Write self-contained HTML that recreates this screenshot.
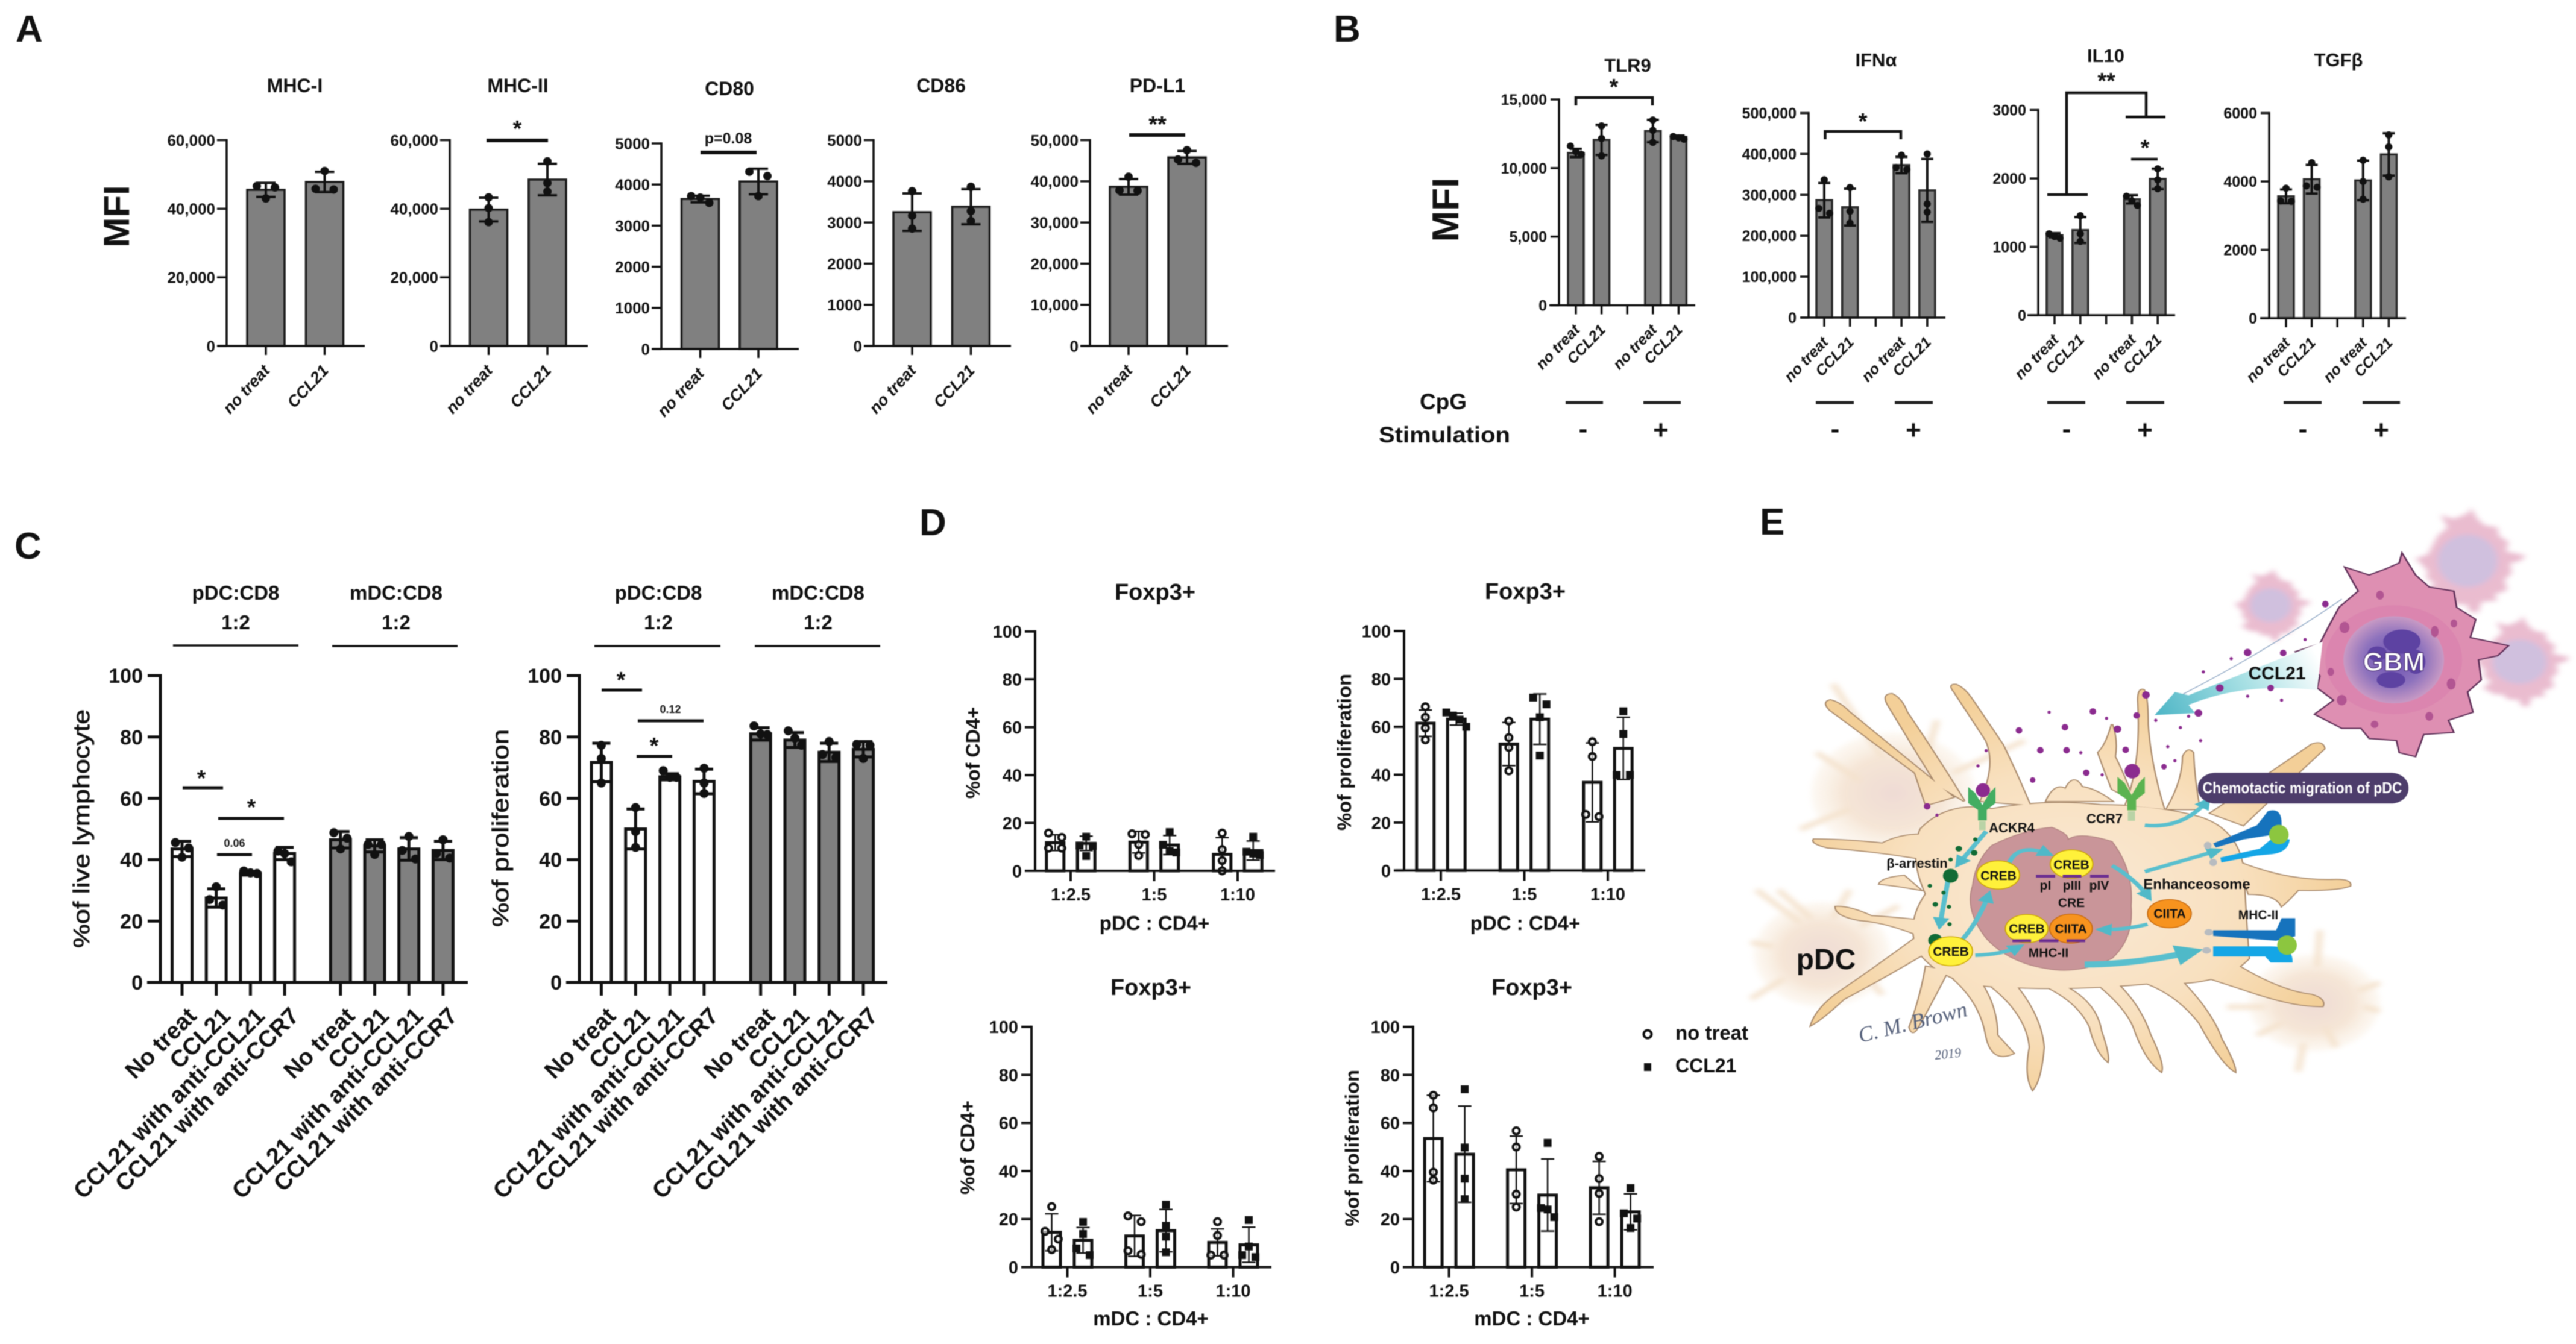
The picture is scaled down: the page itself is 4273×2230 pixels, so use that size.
<!DOCTYPE html>
<html lang="en">
<head>
<meta charset="utf-8">
<title>CCL21 pDC figure</title>
<style>
html,body{margin:0;padding:0;background:#fff}
svg{display:block;font-family:"Liberation Sans",sans-serif;filter:blur(.9px)}
text{fill:#111}
.t{font-weight:bold}
</style>
</head>
<body>
<svg id="figure" xmlns="http://www.w3.org/2000/svg" width="4273" height="2230" viewBox="0 0 4273 2230">
<defs>
<radialGradient id="cellGrad" gradientUnits="userSpaceOnUse" cx="640" cy="1030" r="520" gradientTransform="translate(0 0)">
<stop offset="0" stop-color="#fae9d6"/><stop offset=".6" stop-color="#f8e0bf"/><stop offset="1" stop-color="#f3cf98"/>
</radialGradient>
<radialGradient id="ghostGrad"><stop offset="0" stop-color="#e9cfc6"/><stop offset=".6" stop-color="#f2ddc8"/><stop offset="1" stop-color="#f8ead8" stop-opacity=".4"/></radialGradient>
<radialGradient id="gbmNucleusGrad"><stop offset="0" stop-color="#6a4fb0"/><stop offset=".6" stop-color="#8d72bd"/><stop offset="1" stop-color="#c89ac4"/></radialGradient>
<linearGradient id="ccl21Grad" gradientUnits="userSpaceOnUse" x1="800" y1="570" x2="1100" y2="440"><stop offset="0" stop-color="#4fb6c6"/><stop offset=".55" stop-color="#a8e0e4"/><stop offset="1" stop-color="#ffffff"/></linearGradient>
<filter id="blur6" x="-30%" y="-30%" width="160%" height="160%"><feGaussianBlur stdDeviation="6"/></filter>
<marker id="tealHead" viewBox="0 0 10 10" refX="7" refY="5" markerWidth="3.4" markerHeight="3.4" orient="auto-start-reverse"><path d="M0 0L10 5L0 10Z" fill="#4fb9c8"/></marker>
<polygon id="gbm-shape" points="1250,175 1275,230 1300,260 1345,270 1350,310 1385,340 1375,385 1445,405 1425,430 1390,440 1395,490 1370,520 1380,570 1335,590 1345,620 1290,625 1275,680 1245,670 1240,640 1190,635 1175,610 1140,610 1090,575 1125,540 1095,510 1100,480 1075,440 1055,420 1100,400 1115,360 1135,310 1170,270 1145,210 1190,230 1220,215 1245,200"/>
<g id="cell-shapes">
<path d="M360,720 L205,565 Q190,545 205,540 Q222,545 240,570 L430,780 L380,800 Z"/>
<path d="M400,750 Q350,640 310,550 Q300,525 318,525 Q335,535 345,570 Q400,680 450,790 Z"/>
<path d="M480,790 Q510,700 490,640 L432,520 Q420,500 435,502 Q450,510 465,540 L520,650 Q545,720 570,800 Z"/>
<path d="M600,790 Q615,745 635,760 Q650,720 665,755 Q690,760 720,790 Z"/>
<path d="M745,800 Q775,700 768,540 Q768,510 778,515 Q785,530 785,600 Q790,700 815,810 Z"/>
<path d="M720,760 Q700,690 695,670 Q710,650 720,600 Q730,640 725,680 Q740,720 760,790 Z"/>
<path d="M820,810 Q850,740 850,680 Q858,655 868,670 Q870,740 880,810 Z"/>
<path d="M900,820 Q1010,720 1085,650 Q1105,640 1108,660 Q1060,720 960,850 Z"/>
<path d="M950,940 Q1040,990 1130,985 Q1158,985 1155,1000 Q1130,1012 1060,1010 Q1040,1040 1030,1050 Q1020,1020 970,1020 Z"/>
<path d="M930,1180 Q1020,1260 1085,1270 Q1110,1280 1105,1298 Q1060,1300 990,1270 L900,1230 Z"/>
<path d="M820,1200 Q900,1300 920,1380 Q945,1440 945,1460 Q920,1440 880,1340 Q840,1270 780,1240 Z"/>
<path d="M720,1230 Q770,1290 790,1370 Q815,1440 810,1460 Q780,1430 760,1350 Q745,1300 690,1240 Z"/>
<path d="M620,1240 Q690,1280 700,1360 Q715,1420 712,1435 Q690,1410 680,1350 Q660,1290 600,1250 Z"/>
<path d="M540,1240 Q590,1320 595,1400 Q590,1480 575,1505 Q560,1470 570,1400 Q565,1320 500,1250 Z"/>
<path d="M470,1220 Q510,1290 510,1370 L540,1415 Q500,1440 490,1370 Q480,1290 430,1230 Z"/>
<path d="M420,1210 Q390,1290 365,1350 Q355,1375 350,1350 Q370,1280 380,1200 Z"/>
<path d="M400,1150 Q300,1230 230,1280 Q190,1330 170,1345 Q180,1300 230,1255 Q300,1190 370,1120 Z"/>
<path d="M380,1130 Q310,1090 260,1085 Q215,1075 215,1052 Q240,1050 280,1075 Q340,1080 400,1090 Z"/>
<path d="M400,940 Q300,915 200,905 Q170,895 175,885 Q230,885 300,895 Q350,860 420,880 Z"/>
<path d="M370,1010 Q330,1000 295,995 Q300,980 340,975 Z"/>
<path d="M370,860 Q420,790 500,810 Q600,785 700,800 Q800,800 880,830 Q950,860 960,960 Q965,1100 970,1180 Q920,1250 800,1240 Q650,1260 520,1250 Q420,1250 370,1170 Q340,1100 380,1020 Q350,930 370,860 Z"/>
</g>
<path id="receptor" d="M457,755 L470,770 L483,800 L496,770 L507,755 L507,795 L491,812 L491,838 L475,838 L475,812 L457,795 Z"/>
</defs>

<g id="charts"></g>

<!-- Panel letters -->
<g class="t" font-size="62">
<text x="26" y="69">A</text>
<text x="2212" y="69">B</text>
<text x="24" y="927">C</text>
<text x="1525" y="888">D</text>
<text x="2919" y="887">E</text>
</g>

<!-- Panel A titles & annotations -->
<g class="t" font-size="32" text-anchor="middle">
<text x="489" y="153">MHC-I</text>
<text x="859" y="153">MHC-II</text>
<text x="1210" y="158">CD80</text>
<text x="1561" y="153">CD86</text>
<text x="1920" y="153">PD-L1</text>
</g>
<text class="t" font-size="60" text-anchor="middle" transform="translate(214 359) rotate(-90)">MFI</text>
<g>
<rect x="807" y="230" width="102" height="6" fill="#111"/>
<text class="t" x="858" y="226" font-size="38" text-anchor="middle">*</text>
<rect x="1162" y="250" width="93" height="6" fill="#111"/>
<text class="t" x="1208" y="238" font-size="25" text-anchor="middle">p=0.08</text>
<rect x="1873" y="221" width="93" height="6" fill="#111"/>
<text class="t" x="1920" y="219" font-size="38" text-anchor="middle">**</text>
</g>

<!-- Panel B titles & annotations -->
<g class="t" font-size="31" text-anchor="middle">
<text x="2700" y="119">TLR9</text>
<text x="3112" y="110">IFNα</text>
<text x="3493" y="103">IL10</text>
<text x="3879" y="110">TGFβ</text>
</g>
<text class="t" font-size="62" text-anchor="middle" transform="translate(2419 348) rotate(-90)">MFI</text>
<g fill="none" stroke="#111" stroke-width="4.5">
<path d="M2614 175V162H2741V175"/>
<path d="M3027.5 231V218H3153V231"/>
<path d="M3428 323V154H3560V194"/>
<path d="M3396 323H3463"/>
<path d="M3526 194H3592"/>
<path d="M3535 264H3579"/>
</g>
<g class="t" font-size="38" text-anchor="middle">
<text x="2677" y="157">*</text>
<text x="3090" y="214">*</text>
<text x="3494" y="147">**</text>
<text x="3558" y="258">*</text>
</g>
<g class="t" font-size="37" text-anchor="middle">
<text x="2394" y="679">CpG</text>
<text x="2396" y="734" textLength="218" lengthAdjust="spacingAndGlyphs">Stimulation</text>
</g>
<g stroke="#222" stroke-width="5">
<path d="M2597 668H2659M2726 668H2788"/>
<path d="M3012 668H3075M3143 668H3206"/>
<path d="M3396 668H3459M3527 668H3590"/>
<path d="M3788 668H3851M3919 668H3981"/>
</g>
<g class="t" font-size="44" text-anchor="middle">
<text x="2626" y="726">-</text>
<text x="2755" y="728">+</text>
<text x="3044" y="726">-</text>
<text x="3174" y="728">+</text>
<text x="3428" y="726">-</text>
<text x="3558" y="728">+</text>
<text x="3820" y="726">-</text>
<text x="3950" y="728">+</text>
</g>

<!-- Panel C annotations -->
<g class="t" font-size="33" text-anchor="middle">
<text x="391" y="995">pDC:CD8</text>
<text x="391" y="1044">1:2</text>
<text x="657" y="995">mDC:CD8</text>
<text x="657" y="1044">1:2</text>
<text x="1092" y="995">pDC:CD8</text>
<text x="1092" y="1044">1:2</text>
<text x="1357" y="995">mDC:CD8</text>
<text x="1357" y="1044">1:2</text>
</g>
<g stroke="#111" stroke-width="3.5">
<path d="M287 1071H495M551 1072H759"/>
<path d="M986 1072H1195M1252 1072H1460"/>
</g>
<text class="t" font-size="38" text-anchor="middle" textLength="396" lengthAdjust="spacingAndGlyphs" style="font-weight:normal;stroke:#111;stroke-width:.7" transform="translate(148 1375) rotate(-90)">%of live lymphocyte</text>
<text class="t" font-size="38" text-anchor="middle" textLength="328" lengthAdjust="spacingAndGlyphs" style="font-weight:normal;stroke:#111;stroke-width:.7" transform="translate(843 1374) rotate(-90)">%of proliferation</text>
<g stroke="#111" stroke-width="5">
<path d="M303 1307H370"/>
<path d="M362 1358H471"/>
<path d="M360 1418H418"/>
<path d="M998 1145H1065"/>
<path d="M1058 1196H1167"/>
<path d="M1056 1255H1115"/>
</g>
<g class="t" font-size="38" text-anchor="middle">
<text x="334" y="1304">*</text>
<text x="417" y="1352">*</text>
<text x="1030" y="1141">*</text>
<text x="1085" y="1250">*</text>
</g>
<g class="t" font-size="18" text-anchor="middle">
<text x="389" y="1405">0.06</text>
<text x="1112" y="1183">0.12</text>
</g>

<!-- Panel D annotations -->
<g class="t" font-size="38" text-anchor="middle">
<text x="1916" y="995">Foxp3+</text>
<text x="2530" y="994">Foxp3+</text>
<text x="1909" y="1651">Foxp3+</text>
<text x="2541" y="1651">Foxp3+</text>
<text x="1915" y="1543" font-size="33">pDC : CD4+</text>
<text x="2530" y="1543" font-size="33">pDC : CD4+</text>
<text x="1909" y="2199" font-size="33">mDC : CD4+</text>
<text x="2541" y="2199" font-size="33">mDC : CD4+</text>
</g>
<g class="t" font-size="32" text-anchor="middle">
<text transform="translate(1625 1249) rotate(-90)" textLength="152" lengthAdjust="spacingAndGlyphs">%of CD4+</text>
<text transform="translate(2241 1248) rotate(-90)" textLength="260" lengthAdjust="spacingAndGlyphs">%of proliferation</text>
<text transform="translate(1616 1904) rotate(-90)" textLength="156" lengthAdjust="spacingAndGlyphs">%of CD4+</text>
<text transform="translate(2254 1905) rotate(-90)" textLength="260" lengthAdjust="spacingAndGlyphs">%of proliferation</text>
</g>
<g>
<circle cx="2733" cy="1716" r="6.5" fill="#fff" stroke="#111" stroke-width="4"/>
<text class="t" x="2779" y="1725" font-size="33">no treat</text>
<rect x="2727" y="1764" width="12" height="13" fill="#111"/>
<text class="t" x="2779" y="1779" font-size="32">CCL21</text>
</g>

<!-- Panel E illustration -->
<g transform="translate(2850 800) scale(.9074 .6698)">
<g filter="url(#blur6)" opacity=".75">
<ellipse cx="320" cy="770" rx="150" ry="150" fill="url(#ghostGrad)"/>
<ellipse cx="190" cy="1170" rx="125" ry="130" fill="url(#ghostGrad)"/>
<ellipse cx="1090" cy="1290" rx="120" ry="120" fill="url(#ghostGrad)"/>
<g stroke="#f1d9bd" stroke-width="12" fill="none">
<path d="M210,500L300,680M400,590L380,680M560,640L430,720M180,670L260,740M150,860L240,810"/>
<path d="M70,1010L150,1090M110,1010L170,1080M240,1010L210,1080M60,1140L100,1150M60,1280L120,1230M300,1270L270,1220M330,1050L260,1100"/>
<path d="M1100,1110L1095,1200M1210,1240L1170,1260M1210,1310L1180,1300M930,1300L1000,1300M1130,1400L1110,1350M1060,1460L1070,1390M985,1370L1030,1340"/>
</g>
</g>
<g filter="url(#blur6)" opacity=".55">
<use href="#gbm-shape" fill="#d985a8" transform="translate(1010 305) scale(.36) translate(-1240 -430)"/>
<ellipse cx="1010" cy="305" rx="38" ry="42" fill="#a98cc4"/>
<use href="#gbm-shape" fill="#d985a8" transform="translate(1370 195) scale(.52) translate(-1240 -430)"/>
<ellipse cx="1370" cy="195" rx="55" ry="65" fill="#a98cc4"/>
<use href="#gbm-shape" fill="#d985a8" transform="translate(1465 445) scale(.45) translate(-1240 -430)"/>
<ellipse cx="1465" cy="445" rx="50" ry="55" fill="#a98cc4"/>
</g>
<use href="#cell-shapes" fill="#a98a6c" stroke="#a98a6c" stroke-width="5"/>
<use href="#cell-shapes" fill="url(#cellGrad)"/>
<use href="#gbm-shape" fill="#de8fb2" stroke="#5f2f58" stroke-width="3"/>
<g>
<ellipse cx="1235" cy="440" rx="125" ry="135" fill="#d97fae" opacity=".6"/>
<ellipse cx="1235" cy="440" rx="92" ry="108" fill="url(#gbmNucleusGrad)"/>
<ellipse cx="1250" cy="395" rx="34" ry="30" fill="#5d42a2"/>
<ellipse cx="1205" cy="425" rx="18" ry="18" fill="#5d42a2"/>
<ellipse cx="1275" cy="445" rx="18" ry="30" fill="#5d42a2"/>
<ellipse cx="1230" cy="490" rx="26" ry="20" fill="#5d42a2"/>
<ellipse cx="1310" cy="370" rx="7" ry="14" fill="#b25592"/>
<ellipse cx="1145" cy="360" rx="9" ry="14" fill="#b25592"/>
<ellipse cx="1140" cy="540" rx="9" ry="13" fill="#b25592"/>
<ellipse cx="1340" cy="500" rx="8" ry="14" fill="#b25592"/>
<ellipse cx="1300" cy="580" rx="7" ry="11" fill="#b25592"/>
<ellipse cx="1345" cy="350" rx="6" ry="10" fill="#b25592"/>
<ellipse cx="1120" cy="470" rx="6" ry="10" fill="#b25592"/>
<ellipse cx="1200" cy="600" rx="7" ry="9" fill="#b25592"/>
<ellipse cx="1210" cy="280" rx="7" ry="11" fill="#b25592"/>
</g>
<path d="M1105,395 L860,528 L835,520 L798,577 L872,572 L860,552 Q960,495 1095,515 Z" fill="url(#ccl21Grad)"/>
<path d="M1140,290 Q1000,420 850,525" fill="none" stroke="#8fa7c4" stroke-width="2"/>
<g fill="#8b2b8f">
<ellipse cx="1110" cy="302" rx="6" ry="8"/><ellipse cx="968" cy="422" rx="7" ry="9"/><ellipse cx="1033" cy="423" rx="6" ry="8"/><ellipse cx="917" cy="510" rx="7" ry="9"/><ellipse cx="1010" cy="510" rx="6" ry="8"/><ellipse cx="878" cy="572" rx="7" ry="9"/><ellipse cx="782" cy="527" rx="7" ry="9"/><ellipse cx="765" cy="578" rx="6" ry="8"/><ellipse cx="730" cy="612" rx="7" ry="9"/><ellipse cx="685" cy="568" rx="6" ry="8"/><ellipse cx="634" cy="607" rx="6" ry="8"/><ellipse cx="550" cy="615" rx="6" ry="8"/><ellipse cx="589" cy="664" rx="6" ry="8"/><ellipse cx="637" cy="664" rx="6" ry="8"/><ellipse cx="745" cy="663" rx="6" ry="8"/><ellipse cx="673" cy="720" rx="6" ry="8"/><ellipse cx="815" cy="705" rx="5" ry="7"/><ellipse cx="575" cy="738" rx="5" ry="7"/><ellipse cx="382" cy="803" rx="6" ry="8"/>
<ellipse cx="938" cy="437" rx="3" ry="4"/><ellipse cx="887" cy="470" rx="3" ry="4"/><ellipse cx="1073" cy="390" rx="3" ry="4"/><ellipse cx="968" cy="530" rx="3" ry="4"/><ellipse cx="1030" cy="540" rx="3" ry="4"/><ellipse cx="860" cy="580" rx="3" ry="4"/><ellipse cx="800" cy="590" rx="3" ry="4"/><ellipse cx="845" cy="608" rx="3" ry="4"/><ellipse cx="882" cy="640" rx="3" ry="4"/><ellipse cx="822" cy="655" rx="3" ry="4"/><ellipse cx="835" cy="690" rx="3" ry="4"/><ellipse cx="605" cy="570" rx="3" ry="4"/><ellipse cx="710" cy="585" rx="3" ry="4"/><ellipse cx="663" cy="670" rx="3" ry="4"/><ellipse cx="702" cy="725" rx="3" ry="4"/><ellipse cx="475" cy="703" rx="3" ry="4"/><ellipse cx="400" cy="825" rx="3" ry="4"/><ellipse cx="490" cy="665" rx="3" ry="4"/>
<ellipse cx="484" cy="763" rx="13" ry="17"/><ellipse cx="757" cy="716" rx="14" ry="18"/>
</g>
<use href="#receptor" fill="#43ad62"/>
<use href="#receptor" fill="#5bb350" transform="translate(273 -25)"/>
<rect x="477" y="840" width="12" height="22" fill="#b9d3a6"/>
<rect x="749" y="815" width="13" height="24" fill="#b9d3a6"/>
<path d="M500,900 Q560,860 610,855 Q640,870 640,885 Q660,865 720,890 Q760,960 755,1050 Q760,1130 720,1180 Q660,1220 600,1205 Q530,1190 490,1130 Q450,1060 465,1000 Q470,940 500,900 Z" fill="#c99599" stroke="#b18380" stroke-width="2"/>
<g fill="none" stroke="#59bfce" stroke-width="9" marker-end="url(#tealHead)">
<path d="M490,865 L438,948"/><path d="M420,988 L405,1100"/><path d="M445,1135 Q475,1090 495,1020"/><path d="M470,1172 Q520,1170 552,1150"/><path d="M785,1095 Q740,1110 698,1108"/>
<path d="M670,1195 Q760,1195 872,1162" stroke-width="15"/><path d="M530,950 Q545,890 606,922"/><path d="M720,950 Q760,980 788,1030"/><path d="M780,965 L915,912"/><path d="M780,850 Q850,860 895,788"/>
</g>
<g fill="#116b35">
<ellipse cx="425" cy="975" rx="14" ry="17"/><ellipse cx="397" cy="1135" rx="13" ry="16"/>
<ellipse cx="470" cy="885" rx="4" ry="5"/><ellipse cx="440" cy="908" rx="6" ry="7"/><ellipse cx="468" cy="918" rx="6" ry="7"/><ellipse cx="425" cy="935" rx="4" ry="5"/><ellipse cx="387" cy="1000" rx="4" ry="5"/><ellipse cx="412" cy="1017" rx="4" ry="5"/><ellipse cx="397" cy="1046" rx="5" ry="6"/><ellipse cx="422" cy="1052" rx="4" ry="5"/><ellipse cx="423" cy="1095" rx="4" ry="5"/>
</g>
<g fill="#fff13a" stroke="#c9a400" stroke-width="2">
<ellipse cx="512" cy="973" rx="39" ry="35"/><ellipse cx="646" cy="946" rx="39" ry="35"/><ellipse cx="425" cy="1162" rx="40" ry="36"/><ellipse cx="564" cy="1106" rx="39" ry="35"/>
</g>
<g fill="#f7931e" stroke="#c66a10" stroke-width="2">
<ellipse cx="825" cy="1069" rx="40" ry="35"/><ellipse cx="645" cy="1106" rx="39" ry="36"/>
</g>
<path d="M581,976H616M630,976H664M680,976H714M538,1136H572M587,1136H622M637,1136H671" stroke="#6a2c91" stroke-width="7"/>
<g>
<ellipse cx="895" cy="900" rx="7" ry="9" fill="#b8bcc0"/><ellipse cx="905" cy="942" rx="7" ry="9" fill="#b8bcc0"/><ellipse cx="897" cy="1115" rx="8" ry="8" fill="#b8bcc0"/><ellipse cx="893" cy="1160" rx="8" ry="8" fill="#b8bcc0"/>
<path d="M905,895 L985,850 L1005,815 Q1030,805 1030,845 L1030,870 L960,885 L910,905 Z" fill="#1673bd"/>
<path d="M918,930 L990,908 L1015,880 L1045,885 Q1042,918 1010,922 L985,925 L920,942 Z" fill="#14a6e6"/>
<ellipse cx="1025" cy="873" rx="18" ry="24" fill="#8cc63f"/>
<path d="M905,1110 H1020 L1030,1080 H1055 V1125 L1020,1136 L905,1124 Z" fill="#1673bd"/>
<path d="M905,1150 H1010 Q1052,1150 1050,1190 L1010,1190 L1000,1175 H905 Z" fill="#14a6e6"/>
<ellipse cx="1040" cy="1147" rx="18" ry="24" fill="#8cc63f"/>
</g>
<rect x="877" y="720" width="385" height="76" rx="32" ry="36" fill="#4d3d6b"/>
</g>
<g class="t" text-anchor="middle">
<text x="3971" y="1113" font-size="44" style="fill:#fff;stroke:#4a2f73;stroke-width:1.2">GBM</text>
<text x="3777" y="1127" font-size="30">CCL21</text>
<text x="3819" y="1316" font-size="26" textLength="331" lengthAdjust="spacingAndGlyphs" style="fill:#fff">Chemotactic migration of  pDC</text>
<text x="3337" y="1381" font-size="22">ACKR4</text>
<text x="3491" y="1366" font-size="22">CCR7</text>
<text x="3180" y="1440" font-size="22">β-arrestin</text>
<text x="3315" y="1460" font-size="21">CREB</text>
<text x="3436" y="1442" font-size="21">CREB</text>
<text x="3236" y="1586" font-size="21">CREB</text>
<text x="3362" y="1548" font-size="21">CREB</text>
<text x="3599" y="1523" font-size="21">CIITA</text>
<text x="3435" y="1548" font-size="21">CIITA</text>
<text x="3393" y="1476" font-size="21">pI</text>
<text x="3437" y="1476" font-size="21">pIII</text>
<text x="3482" y="1476" font-size="21">pIV</text>
<text x="3436" y="1505" font-size="21">CRE</text>
<text x="3644" y="1475" font-size="24">Enhanceosome</text>
<text x="3398" y="1588" font-size="21">MHC-II</text>
<text x="3746" y="1525" font-size="21">MHC-II</text>
<text x="3029" y="1608" font-size="48">pDC</text>
</g>
<g font-family="Liberation Serif" font-style="italic">
<text x="3086" y="1730" font-size="36" transform="rotate(-14 3086 1730)" style="fill:#55607a">C. M. Brown</text>
<text x="3210" y="1758" font-size="22" transform="rotate(-6 3210 1758)" style="fill:#55607a">2019</text>
</g>

<script>
// ---------- shared tick arrays ----------
const ticks60k = [0, 20000, 40000, 60000];
const labels60k = ['0', '20,000', '40,000', '60,000'];
const ticks5k = [0, 1000, 2000, 3000, 4000, 5000];
const labels5k = ['0', '1000', '2000', '3000', '4000', '5000'];
const ticks50k = [0, 10000, 20000, 30000, 40000, 50000];
const labels50k = ['0', '10,000', '20,000', '30,000', '40,000', '50,000'];
const ticks15k = [0, 5000, 10000, 15000];
const labels15k = ['0', '5,000', '10,000', '15,000'];
const ticks500k = [0, 100000, 200000, 300000, 400000, 500000];
const labels500k = ['0', '100,000', '200,000', '300,000', '400,000', '500,000'];
const ticks3k = [0, 1000, 2000, 3000];
const labels3k = ['0', '1000', '2000', '3000'];
const ticks6k = [0, 2000, 4000, 6000];
const labels6k = ['0', '2000', '4000', '6000'];
const ticks100 = [0, 20, 40, 60, 80, 100];
const labels100 = ['0', '20', '40', '60', '80', '100'];

// ---------- categories ----------
const catsA = ['no treat', 'CCL21'];
const catsB = ['no treat', 'CCL21', '', 'no treat', 'CCL21'];
const catsC = ['No treat', 'CCL21', 'CCL21 with anti-CCL21', 'CCL21 with anti-CCR7', 'No treat', 'CCL21', 'CCL21 with anti-CCL21', 'CCL21 with anti-CCR7'];
const catsD = ['1:2.5', '1:5', '1:10'];

// ---------- panel A ----------
const mhc1Means = [45500, 47800];
const mhc1Errors = [2050, 2950];
const mhc1Points = [[46600, 46200, 43000], [51000, 45600, 45800]];
const mhc2Means = [39750, 48500];
const mhc2Errors = [3450, 4600];
const mhc2Points = [[43300, 40200, 36100], [53800, 47500, 45000]];
const cd80Means = [3647, 4074];
const cd80Errors = [80, 312];
const cd80Points = [[3555, 3717, 3682], [4313, 4208, 3717]];
const cd86Means = [3250, 3382];
const cd86Errors = [455, 427];
const cd86Points = [[3760, 3165, 2850], [3865, 3277, 3032]];
const pdl1Means = [38650, 45800];
const pdl1Errors = [1900, 1540];
const pdl1Points = [[41100, 37700, 37800], [47550, 44500, 45300]];

// ---------- panel B ----------
const tlr9Means = [11100, 12050, null, 12700, 12270];
const tlr9Errors = [300, 1100, null, 820, 100];
const tlr9Points = [[11600, 11200, 11000], [13075, 12150, 10890], [], [13500, 12750, 11870], [12300, 12200, 12100]];
const ifnMeans = [287000, 270000, null, 373000, 311000];
const ifnErrors = [42000, 45000, null, 20000, 77000];
const ifnPoints = [[337000, 267000, 255000], [318000, 260000, 231000], [], [397000, 367000, 362000], [400000, 278000, 258000]];
const il10Means = [1170, 1245, null, 1695, 1993];
const il10Errors = [30, 190, null, 60, 150];
const il10Points = [[1190, 1150, 1125], [1455, 1190, 1080], [], [1740, 1670, 1607], [2140, 1980, 1850]];
const tgfMeans = [3565, 4065, null, 4030, 4790];
const tgfErrors = [200, 420, null, 580, 620];
const tgfPoints = [[3800, 3430, 3420], [4550, 3870, 3830], [], [4620, 4000, 3480], [5360, 5010, 4135]];

// ---------- panel C ----------
const liveMeans = [43.5, 27.5, 35.5, 42, 46.5, 44.5, 43.5, 43];
const liveErrors = [2.5, 3, 0.5, 2, 2.7, 2, 3.7, 3];
const livePoints = [[45.6, 43.8, 40.8], [31.2, 27, 25.2], [35.7, 36.3, 35.5], [42.8, 42, 39.3], [48.8, 47, 43.5], [45, 45, 41.7], [47.6, 43, 40.2], [46.5, 42, 40.5]];
const prolifMeans = [71.7, 50, 67, 65.5, 81, 79, 75, 76];
const prolifErrors = [6.3, 6.5, 1, 4, 2, 2.4, 3, 2.5];
const prolifPoints = [[77.3, 73, 65], [57, 49.2, 44], [69, 66.8, 66.8], [69.8, 65, 61.6], [83.6, 81, 80.8], [82, 79.6, 77.3], [78.5, 74.3, 73.3], [77.6, 77.3, 73]];

// ---------- panel D ----------
const d1NoTreatMeans = [11.8, 12, 6.9];
const d1NoTreatErrors = [3.3, 4.5, 7];
const d1NoTreatPoints = [[15.8, 14, 9.5, 9.5], [15.2, 15.5, 11, 6.4], [15.8, 8.9, 4.3, 0]];
const d1CclMeans = [11.5, 10.8, 8.5];
const d1CclErrors = [3, 4, 4];
const d1CclPoints = [[14.3, 10.6, 10.4, 6.2], [16.2, 10.9, 8.3, 7.7], [14.3, 8, 7.2, 6.6]];
const d2NoTreatMeans = [61.5, 52.8, 36.8];
const d2NoTreatErrors = [5.5, 9, 16.5];
const d2NoTreatPoints = [[68.4, 64, 59.5, 54.6], [62.4, 55.5, 51.4, 41.6], [53.8, 47.6, 23.4, 22.5]];
const d2CclMeans = [63.2, 63.2, 51];
const d2CclErrors = [2.5, 10.5, 13];
const d2CclPoints = [[66, 64.7, 63, 60], [72.2, 69.4, 64, 48], [66.5, 57, 39.9, 39.9]];
const d3NoTreatMeans = [14.5, 13, 10.3];
const d3NoTreatErrors = [7.7, 8.5, 5.6];
const d3NoTreatPoints = [[25.2, 14.9, 11.7, 7.3], [18.9, 21.3, 5.3, 6.8], [18.9, 13.2, 5, 5]];
const d3CclMeans = [11.2, 15.2, 9.3];
const d3CclErrors = [5.3, 8.8, 7.3];
const d3CclPoints = [[18.8, 13.8, 7.8, 5], [26, 17.2, 12.7, 6.2], [19.6, 8.6, 5, 4.2]];
const d4NoTreatMeans = [53.5, 40.5, 33];
const d4NoTreatErrors = [18, 14, 11];
const d4NoTreatPoints = [[71.5, 66.3, 39.5, 36.2], [56.7, 50, 30.4, 25], [46.1, 36.8, 30.7, 18.9]];
const d4CclMeans = [47, 30, 23];
const d4CclErrors = [20, 15, 7.5];
const d4CclPoints = [[74, 49.8, 36.8, 28.3], [51.7, 24.6, 24, 20.8], [32.9, 22.4, 20.2, 16.3]];

// ---------- drawing helpers ----------
const NS = 'http://www.w3.org/2000/svg';
const root = document.getElementById('charts');
function mk(tag, attrs, parent) {
  const el = document.createElementNS(NS, tag);
  for (const k in attrs) el.setAttribute(k, attrs[k]);
  parent.appendChild(el);
  return el;
}
function yAxisScale(top, bottom, max) {
  return function (v) { return bottom - (v / max) * (bottom - top); };
}
function xAxisScale(first, step, gapAt, gap) {
  return function (i) { return first + i * step + (gapAt !== undefined && i >= gapAt ? gap : 0); };
}
// Places points side by side when their values collide, the way a scatter-on-bar plot does.
function swarmOffsets(ys, r, spread) {
  const order = ys.map(function (y, i) { return i; }).sort(function (a, b) { return ys[a] - ys[b]; });
  const out = ys.map(function () { return 0; });
  let cluster = [];
  function flush() {
    const n = cluster.length;
    cluster.forEach(function (idx, j) {
      if (n === 1) out[idx] = 0;
      else if (n === 2) out[idx] = j === 0 ? -spread : spread;
      else out[idx] = (j - (n - 1) / 2) * spread;
    });
    cluster = [];
  }
  order.forEach(function (idx) {
    if (cluster.length && ys[idx] - ys[cluster[cluster.length - 1]] >= 2 * r) flush();
    cluster.push(idx);
  });
  flush();
  return out;
}
function drawAxes(g, a, s, ticks, labels, y) {
  const yLine = mk('line', {x1: a.axisX, x2: a.axisX, y1: a.top - s.axisW / 2, y2: a.bottom, stroke: s.ink, 'stroke-width': s.axisW}, g);
  
  
  const xLine = mk('line', {x1: a.xLeft, x2: a.xRight, y1: a.bottom, y2: a.bottom, stroke: s.ink, 'stroke-width': s.axisW}, g);
  
  
  ticks.forEach(function (t, i) {
    const tick = mk('line', {x1: a.axisX - s.tickLen, x2: a.axisX, y1: y(t), y2: y(t), stroke: s.ink, 'stroke-width': s.axisW}, g);
    
    
    const lab = mk('text', {x: a.axisX - s.labelGap, y: y(t) + s.fontSize * 0.36, 'text-anchor': 'end', 'font-size': s.fontSize, 'font-weight': 'bold'}, g);
    lab.textContent = labels[i];
    
    
  });
}
function drawXTick(g, a, s, x, label) {
  const tick = mk('line', {x1: x, x2: x, y1: a.bottom, y2: a.bottom + s.xTickLen, stroke: s.ink, 'stroke-width': s.axisW}, g);
  
  
  if (!label) return;
  const attrs = {'font-size': s.xFontSize, 'font-weight': 'bold'};
  if (s.xRotate) {
    const ax = x + s.xDx, ay = a.bottom + s.xDy;
    attrs.transform = 'translate(' + ax + ' ' + ay + ') rotate(' + s.xRotate + ')';
    attrs['text-anchor'] = 'end';
    if (s.xItalic) attrs['font-style'] = 'italic';
  } else {
    attrs.x = x;
    attrs.y = a.bottom + s.xDy;
    attrs['text-anchor'] = 'middle';
  }
  const lab = mk('text', attrs, g);
  lab.textContent = label;
  
  
}
function drawBar(g, s, cx, mean, err, points, y, fill, marker, baseY) {
  const top = y(mean);
  const bar = mk('rect', {x: cx - s.barW / 2, y: top, width: s.barW, height: baseY - top, fill: fill, stroke: s.barInk, 'stroke-width': s.barStroke}, g);
  
  
  const eTop = y(mean + err), eBot = y(mean - err);
  const whisker = mk('path', {d: 'M' + cx + ' ' + eTop + 'V' + eBot + 'M' + (cx - s.capW / 2) + ' ' + eTop + 'H' + (cx + s.capW / 2) + 'M' + (cx - s.capW / 2) + ' ' + eBot + 'H' + (cx + s.capW / 2), fill: 'none', stroke: s.ink, 'stroke-width': s.errW}, g);
  
  
  const ys = points.map(y);
  const offs = swarmOffsets(ys, s.r, s.spread);
  ys.forEach(function (py, i) {
    const px = cx + offs[i];
    let dot;
    if (marker === 'open') {
      dot = mk('circle', {cx: px, cy: py, r: s.r - 1, fill: '#fff', 'fill-opacity': 0.6, stroke: s.ink, 'stroke-width': 4}, g);
    } else if (marker === 'square') {
      dot = mk('rect', {x: px - s.r, y: py - s.r, width: 2 * s.r, height: 2 * s.r, fill: s.ink}, g);
    } else {
      dot = mk('circle', {cx: px, cy: py, r: s.r, fill: s.ink}, g);
    }
    
    
  });
}
function drawSimple(name, a, s, cats, ticks, labels, max, means, errors, points, fills) {
  const g = mk('g', {}, root);
  
  
  const y = yAxisScale(a.top, a.bottom, max);
  const x = xAxisScale(a.first, a.step, a.gapAt, a.gap);
  cats.forEach(function (c, i) {
    if (means[i] !== null) drawBar(g, s, x(i), means[i], errors[i], points[i], y, fills(i), 'solid', a.bottom);
  });
  drawAxes(g, a, s, ticks, labels, y);
  cats.forEach(function (c, i) { drawXTick(g, a, s, x(i), c); });
}
function drawGrouped(name, a, s, cats, ticks, labels, max, m1, e1, p1, m2, e2, p2) {
  const g = mk('g', {}, root);
  
  
  const y = yAxisScale(a.top, a.bottom, max);
  const x = xAxisScale(a.first, a.step);
  cats.forEach(function (c, i) {
    drawBar(g, s, x(i) - a.offset, m1[i], e1[i], p1[i], y, '#fff', 'open', a.bottom);
    drawBar(g, s, x(i) + a.offset, m2[i], e2[i], p2[i], y, '#fff', 'square', a.bottom);
  });
  drawAxes(g, a, s, ticks, labels, y);
  cats.forEach(function (c, i) { drawXTick(g, a, s, x(i), c); });
}

// ---------- styles ----------
const styleA = {ink: '#111', barInk: '#1a1a1a', axisW: 3.5, tickLen: 16, labelGap: 19, fontSize: 26, xTickLen: 15, xFontSize: 27, xRotate: -47, xItalic: true, xDx: 8, xDy: 42, barW: 62, barStroke: 3.5, capW: 32, errW: 4, r: 7, spread: 15};
const styleB = {ink: '#111', barInk: '#2a2a2a', axisW: 3.5, tickLen: 14, labelGap: 20, fontSize: 25, xTickLen: 15, xFontSize: 25, xRotate: -46, xItalic: true, xDx: 8, xDy: 42, barW: 26, barStroke: 3.5, capW: 20, errW: 4, r: 6, spread: 9};
const styleC = {ink: '#111', barInk: '#111', axisW: 5, tickLen: 21, labelGap: 29, fontSize: 34, xTickLen: 22, xFontSize: 39, xRotate: -45, xItalic: false, xDx: 26, xDy: 58, barW: 33, barStroke: 5, capW: 30, errW: 5, r: 7.5, spread: 11};
const styleD = {ink: '#111', barInk: '#111', axisW: 4, tickLen: 17, labelGap: 22, fontSize: 29, xTickLen: 17, xFontSize: 29, xRotate: 0, xItalic: false, xDx: 0, xDy: 49, barW: 29, barStroke: 5, capW: 22, errW: 2.5, r: 6.5, spread: 11};
function gray() { return '#808080'; }
function mixedFill(i) { return i < 4 ? '#fff' : '#808080'; }

// ---------- charts ----------
drawSimple('chart-mhc-i', {axisX: 376, top: 232.5, bottom: 574, xLeft: 361, xRight: 605, first: 441, step: 97.5}, styleA, catsA, ticks60k, labels60k, 60000, mhc1Means, mhc1Errors, mhc1Points, gray);
drawSimple('chart-mhc-ii', {axisX: 746, top: 232.5, bottom: 574, xLeft: 731, xRight: 975, first: 810.5, step: 97.5}, styleA, catsA, ticks60k, labels60k, 60000, mhc2Means, mhc2Errors, mhc2Points, gray);
drawSimple('chart-cd80', {axisX: 1097, top: 238, bottom: 579, xLeft: 1083, xRight: 1325, first: 1161.5, step: 96.5}, styleA, catsA, ticks5k, labels5k, 5000, cd80Means, cd80Errors, cd80Points, gray);
drawSimple('chart-cd86', {axisX: 1449, top: 232.5, bottom: 574, xLeft: 1433, xRight: 1677, first: 1513, step: 97.5}, styleA, catsA, ticks5k, labels5k, 5000, cd86Means, cd86Errors, cd86Points, gray);
drawSimple('chart-pd-l1', {axisX: 1808, top: 232.5, bottom: 574, xLeft: 1793, xRight: 2037, first: 1872, step: 97}, styleA, catsA, ticks50k, labels50k, 50000, pdl1Means, pdl1Errors, pdl1Points, gray);

drawSimple('chart-tlr9', {axisX: 2586, top: 165, bottom: 506.5, xLeft: 2570, xRight: 2812, first: 2614, step: 42.6}, styleB, catsB, ticks15k, labels15k, 15000, tlr9Means, tlr9Errors, tlr9Points, gray);
drawSimple('chart-ifna', {axisX: 3000, top: 187.6, bottom: 527, xLeft: 2987, xRight: 3227, first: 3026, step: 42.7}, styleB, catsB, ticks500k, labels500k, 500000, ifnMeans, ifnErrors, ifnPoints, gray);
drawSimple('chart-il10', {axisX: 3381, top: 182.6, bottom: 523, xLeft: 3363, xRight: 3608, first: 3408, step: 42.8}, styleB, catsB, ticks3k, labels3k, 3000, il10Means, il10Errors, il10Points, gray);
drawSimple('chart-tgfb', {axisX: 3764, top: 187.6, bottom: 528, xLeft: 3749, xRight: 3991, first: 3792, step: 42.6}, styleB, catsB, ticks6k, labels6k, 6000, tgfMeans, tgfErrors, tgfPoints, gray);

drawSimple('chart-live-lymphocyte', {axisX: 266, top: 1121, bottom: 1630, xLeft: 244, xRight: 776, first: 302, step: 56.7, gapAt: 4, gap: 36}, styleC, catsC, ticks100, labels100, 100, liveMeans, liveErrors, livePoints, mixedFill);
drawSimple('chart-proliferation', {axisX: 961, top: 1121, bottom: 1630, xLeft: 939, xRight: 1472, first: 997.5, step: 56.8, gapAt: 4, gap: 37}, styleC, catsC, ticks100, labels100, 100, prolifMeans, prolifErrors, prolifPoints, mixedFill);

drawGrouped('chart-pdc-cd4-foxp3', {axisX: 1717, top: 1047.7, bottom: 1445, xLeft: 1700, xRight: 2115, first: 1776, step: 138.5, offset: 25.7}, styleD, catsD, ticks100, labels100, 100, d1NoTreatMeans, d1NoTreatErrors, d1NoTreatPoints, d1CclMeans, d1CclErrors, d1CclPoints);
drawGrouped('chart-pdc-proliferation', {axisX: 2329, top: 1047, bottom: 1444.4, xLeft: 2315, xRight: 2729, first: 2390, step: 138.5, offset: 25.7}, styleD, catsD, ticks100, labels100, 100, d2NoTreatMeans, d2NoTreatErrors, d2NoTreatPoints, d2CclMeans, d2CclErrors, d2CclPoints);
drawGrouped('chart-mdc-cd4-foxp3', {axisX: 1711, top: 1703.7, bottom: 2102.5, xLeft: 1695, xRight: 2109, first: 1770.5, step: 137.5, offset: 26}, styleD, catsD, ticks100, labels100, 100, d3NoTreatMeans, d3NoTreatErrors, d3NoTreatPoints, d3CclMeans, d3CclErrors, d3CclPoints);
drawGrouped('chart-mdc-proliferation', {axisX: 2344, top: 1703.7, bottom: 2102.5, xLeft: 2327, xRight: 2743, first: 2403.6, step: 137.5, offset: 26}, styleD, catsD, ticks100, labels100, 100, d4NoTreatMeans, d4NoTreatErrors, d4NoTreatPoints, d4CclMeans, d4CclErrors, d4CclPoints);
</script>
</svg>
</body>
</html>
